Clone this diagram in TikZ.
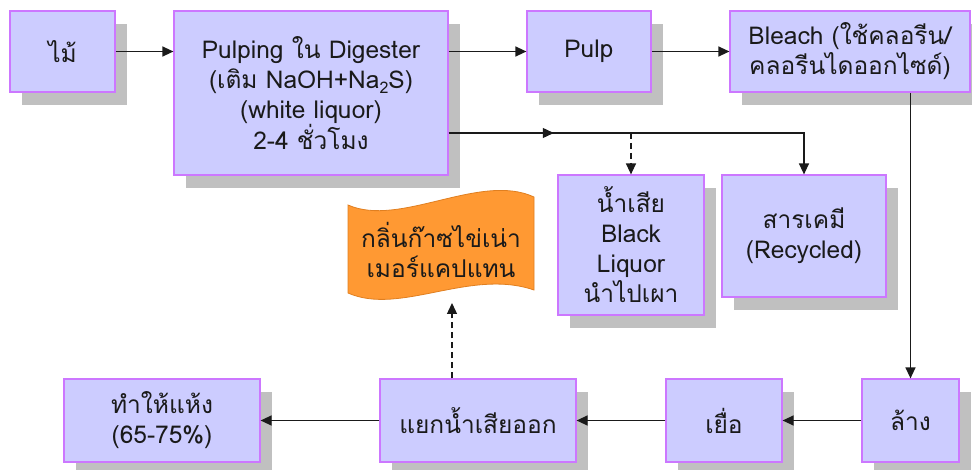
\documentclass[tikz,border=0pt]{standalone}
\usepackage{fontspec}
\setmainfont[Script=Thai]{Loma}
\usetikzlibrary{arrows.meta,shadows,decorations.markings,calc}
\definecolor{boxfill}{HTML}{CCCCFF}
\definecolor{boxline}{HTML}{CC77FF}
\definecolor{shadowgray}{HTML}{C0C0C0}
\definecolor{flagfill}{HTML}{FF9933}
\definecolor{flagedge}{HTML}{E07F20}
\definecolor{ink}{HTML}{1A1A1A}
\begin{document}
\begin{tikzpicture}[x=1pt,y=-1pt,
  box/.style={draw=boxline, fill=boxfill, line width=1.2pt, align=center, inner sep=0pt, text=ink,
    general shadow={fill=shadowgray, shadow xshift=12pt, shadow yshift=-13pt}},
  tip/.style={-{Triangle[length=11pt,width=10pt]}},
  conn/.style={line width=1.3pt, draw=ink, tip},
  dconn/.style={conn, dash pattern=on 6pt off 4pt},
  font=\fontsize{24.5}{30}\selectfont]
\useasboundingbox (0,0) rectangle (972,470);
% top row
\node[box, minimum width=105pt, minimum height=81pt] (mai) at (62.5,51.5) {ไม้};
\node[box, minimum width=274pt, minimum height=164pt] (pulping) at (311,93)
  {Pulping ใน Digester\\(เติม NaOH+Na\raisebox{-5pt}{\fontsize{16}{16}\selectfont 2}S)\\(white liquor)\\2-4 ชั่วโมง};
\node[box, minimum width=124pt, minimum height=81pt] (pulp) at (589,51.5) {Pulp};
\node[box, minimum width=240pt, minimum height=81pt] (bleach) at (850,51.5) {Bleach (ใช้คลอรีน/\\คลอรีนไดออกไซด์)};
% middle row
\node[box, minimum width=146pt, minimum height=140pt] (waste) at (631,245) {น้ำเสีย\\Black\\Liquor\\นำไปเผา};
\node[box, minimum width=164pt, minimum height=122pt] (chem) at (804,236) {สารเคมี\\(Recycled)};
% bottom row
\node[box, minimum width=97pt, minimum height=83pt] (lang) at (910.5,420.5) {ล้าง};
\node[box, minimum width=116pt, minimum height=83pt] (yua) at (724,420.5) {เยื่อ};
\node[box, minimum width=196pt, minimum height=83pt] (sep) at (478,420.5) {แยกน้ำเสียออก};
\node[box, minimum width=196pt, minimum height=83pt] (dry) at (162,420.5) {ทำให้แห้ง\\(65-75\%)};
% flag
\path[fill=flagfill, draw=flagedge, line width=0.8pt]
  (348,205) .. controls (400,228) and (480,172) .. (534,197)
  -- (534,290) .. controls (470,268) and (400,316) .. (348,293) -- cycle;
\node[align=center, text=ink] (smell) at (441,250) {กลิ่นก๊าซไข่เน่า\\เมอร์แคปแทน};
\coordinate (flagbot) at (452,303);
% connectors
\draw[conn] (mai.east) -- (mai.east -| pulping.west);
\draw[conn] (pulping.east |- pulp.west) -- (pulp.west);
\draw[conn] (pulp) -- (bleach);
\draw[conn] (bleach.south -| lang.north) -- (lang.north);
\coordinate (branch) at ([yshift=-40pt]pulping.east);
\draw[conn, postaction={decorate},
  decoration={markings, mark=at position 0.265 with {\arrow{Triangle[length=11pt,width=10pt]}}}]
  (branch) -| (chem.north);
\draw[dconn] (waste.north |- branch) -- (waste.north);
\draw[conn] (lang) -- (yua);
\draw[conn] (yua) -- (sep);
\draw[conn] (sep) -- (dry);
\draw[dconn] (sep.north -| flagbot) -- (flagbot);
\end{tikzpicture}
\end{document}
